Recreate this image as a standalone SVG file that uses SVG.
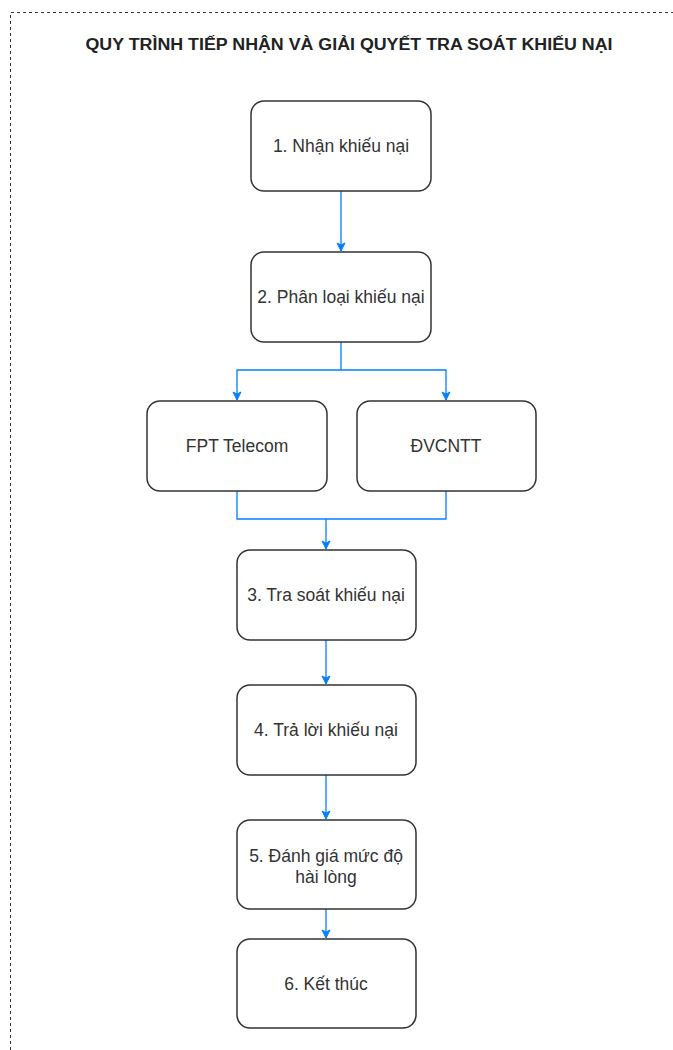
<svg xmlns="http://www.w3.org/2000/svg" width="673" height="1050" viewBox="0 0 673 1050">
<style>
.box{fill:#fff;stroke:#333;stroke-width:1.5}
.lbl{font-family:"Liberation Sans",Arial,sans-serif;font-size:17.5px;fill:#333;text-anchor:middle}
.ttl{font-family:"Liberation Sans",Arial,sans-serif;font-size:16px;font-weight:bold;fill:#222;text-anchor:middle}
.edge{fill:none;stroke:#007FFF;stroke-width:1.3}
</style>
<defs>
<marker id="arr" markerWidth="10" markerHeight="10" refX="9" refY="5" orient="auto" markerUnits="userSpaceOnUse">
<path d="M1,1 L9,5 L1,9 L3,5 Z" fill="#007FFF" stroke="#007FFF"/>
</marker>
</defs>
<rect width="673" height="1050" fill="#fff"/>
<path d="M10.5,1050 L10.5,12.5 L673,12.5" fill="none" stroke="#333" stroke-dasharray="3,3"/>
<text class="ttl" x="349" y="50" textLength="527" lengthAdjust="spacingAndGlyphs">QUY TRÌNH TIẾP NHẬN VÀ GIẢI QUYẾT TRA SOÁT KHIẾU NẠI</text>
<g id="connectors">
<path class="edge" d="M341,191 L341,251" marker-end="url(#arr)"/>
<path class="edge" d="M341,342 L341,370 L237,370 L237,400" marker-end="url(#arr)"/>
<path class="edge" d="M341,370 L446,370 L446,400" marker-end="url(#arr)"/>
<path class="edge" d="M237,491 L237,519 L446,519 L446,491"/>
<path class="edge" d="M326,519 L326,549" marker-end="url(#arr)"/>
<path class="edge" d="M326,640 L326,684" marker-end="url(#arr)"/>
<path class="edge" d="M326,775 L326,819" marker-end="url(#arr)"/>
<path class="edge" d="M326,909 L326,938" marker-end="url(#arr)"/>
</g>
<g id="n1"><rect class="box" x="251" y="101" width="180" height="90" rx="13"/><text class="lbl" x="341" y="152">1. Nhận khiếu nại</text></g>
<g id="n2"><rect class="box" x="251" y="252" width="180" height="90" rx="13"/><text class="lbl" x="341" y="303">2. Phân loại khiếu nại</text></g>
<g id="n_fpt"><rect class="box" x="147" y="401" width="180" height="90" rx="13"/><text class="lbl" x="237" y="452">FPT Telecom</text></g>
<g id="n_dv"><rect class="box" x="357" y="401" width="179" height="90" rx="13"/><text class="lbl" x="446" y="452">ĐVCNTT</text></g>
<g id="n3"><rect class="box" x="237" y="550" width="179" height="90" rx="13"/><text class="lbl" x="326" y="601">3. Tra soát khiếu nại</text></g>
<g id="n4"><rect class="box" x="237" y="685" width="179" height="90" rx="13"/><text class="lbl" x="326" y="736">4. Trả lời khiếu nại</text></g>
<g id="n5"><rect class="box" x="237" y="820" width="179" height="89" rx="13"/><text class="lbl" x="326" y="862">5. Đánh giá mức độ</text><text class="lbl" x="326" y="883">hài lòng</text></g>
<g id="n6"><rect class="box" x="237" y="939" width="179" height="89" rx="13"/><text class="lbl" x="326" y="990">6. Kết thúc</text></g>
</svg>
